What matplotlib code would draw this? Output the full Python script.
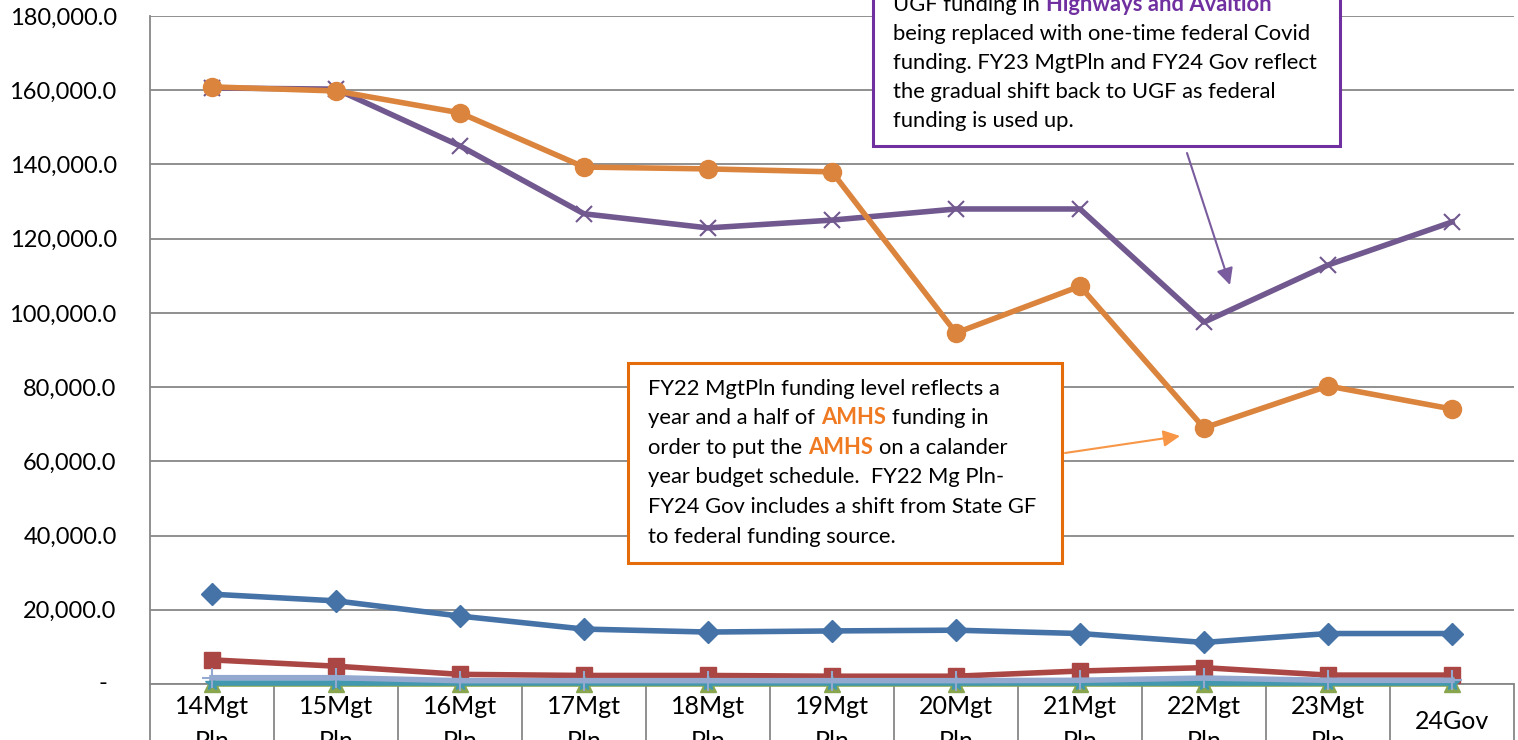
import matplotlib
matplotlib.use("Agg")
import matplotlib.pyplot as plt
import matplotlib.transforms as mtransforms
from matplotlib.patches import Rectangle

plt.rcParams["font.family"] = ["Lato", "DejaVu Sans"]

categories = ["14Mgt\nPln", "15Mgt\nPln", "16Mgt\nPln", "17Mgt\nPln", "18Mgt\nPln",
              "19Mgt\nPln", "20Mgt\nPln", "21Mgt\nPln", "22Mgt\nPln", "23Mgt\nPln",
              "24Gov"]

series1 = [24200, 22400, 18300, 14800, 14000, 14300, 14500, 13600, 11200, 13600, 13600]
series2 = [6500, 4800, 2600, 2300, 2300, 2100, 2100, 3500, 4400, 2400, 2400]
series3 = [0, 0, 0, 0, 0, 0, 0, 0, 0, 0, 0]
series4 = [160600, 160300, 145000, 126700, 122900, 125000, 128000, 128000, 97500, 112900, 124500]
series5 = [250, 250, 250, 250, 250, 250, 250, 250, 250, 250, 250]
series6 = [160900, 159800, 153900, 139300, 138800, 138000, 94600, 107200, 69000, 80300, 74100]
series7 = [1700, 1700, 900, 900, 900, 900, 900, 1000, 1600, 1000, 1000]

yticks = [0, 20000, 40000, 60000, 80000, 100000, 120000, 140000, 160000, 180000]

W, H = 1518, 740
FS = 17
NOTE_FS = 15.8
fig = plt.figure(figsize=(W / 100, H / 100), dpi=100)
ax = fig.add_axes([150 / W, 1 - 684 / H, 1364 / W, 668 / H])

x = list(range(len(categories)))
ax.plot(x, series1, color="#4572A7", lw=4, marker="D", ms=11, zorder=3)
ax.plot(x, series2, color="#AA4643", lw=4, marker="s", ms=12, zorder=3)
ax.plot(x, series3, color="#89A54E", lw=4, marker="^", ms=12, zorder=3, clip_on=False)
ax.plot(x, series4, color="#71588F", lw=4, marker="x", ms=11, mew=1.5, zorder=3)
ax.plot(x, series5, color="#4198AF", lw=4, marker="*", ms=10, zorder=3, clip_on=False)
ax.plot(x, series6, color="#DB843D", lw=4, marker="o", ms=13, zorder=3)
ax.plot(x, series7, color="#93A9CF", lw=4, marker="+", ms=14, mew=1.5, zorder=3, clip_on=False)

ax.set_xlim(-0.5, len(categories) - 0.5)
ax.set_ylim(0, 180000)

grid_c = "#878787"
ax.set_yticks(yticks)
ax.set_yticklabels(["{:,.1f}".format(v) if v else "" for v in yticks])
ax.tick_params(axis="y", length=0, pad=24, labelsize=FS)
ax.yaxis.grid(True, color=grid_c, lw=1.3)
ax.set_axisbelow(True)
ax.text(-0.0345, 0, "-", transform=mtransforms.blended_transform_factory(ax.transAxes, ax.transData),
        ha="center", va="center", fontsize=FS)

ax.set_xticks(x)
ax.set_xticklabels([])
ax.tick_params(axis="x", which="major", length=0)
ax.set_xticks([i - 0.5 for i in range(len(categories) + 1)], minor=True)
ax.tick_params(axis="x", which="minor", length=45, width=1.3, color=grid_c, direction="out")
xt = mtransforms.blended_transform_factory(ax.transData, ax.transAxes)
for i, lab in enumerate(categories):
    ax.text(i, -0.06 if "\n" in lab else -0.056, lab, transform=xt, ha="center", va="center",
            fontsize=18, linespacing=1.65, clip_on=False)

for s in ["top", "right"]:
    ax.spines[s].set_visible(False)
for s in ["left", "bottom"]:
    ax.spines[s].set_color(grid_c)
    ax.spines[s].set_linewidth(1.3)


def px(xp, yp):
    return xp / W, 1 - yp / H


def rich(xp, yp, parts, size=NOTE_FS):
    text, color, weight = parts[0]
    prev = fig.text(*px(xp, yp), text, color=color, weight=weight, fontsize=size,
                    va="center", zorder=6)
    for text, color, weight in parts[1:]:
        prev = fig.add_artist(plt.Annotation(text, xy=(1, 0), xycoords=prev, xytext=(4.2, 0),
                                             textcoords="offset points", va="bottom",
                                             color=color, weight=weight, fontsize=size,
                                             annotation_clip=False, zorder=6))


purple = "#7030A0"
orange = "#E46C0A"
amhs = "#F07A22"
black = "black"

# purple note (top cut off)
fig.patches.append(Rectangle(px(873, 146), (1340 - 873) / W, 200 / H, transform=fig.transFigure,
                             facecolor="white", edgecolor=purple, lw=2.2, zorder=5))
rich(893, 5, [("UGF funding in", black, "normal"), ("Highways and Avaition", purple, "bold")])
rich(893, 34, [("being replaced with one-time federal Covid", black, "normal")])
rich(893, 63, [("funding. FY23 MgtPln and FY24 Gov reflect", black, "normal")])
rich(893, 92, [("the gradual shift back to UGF as federal", black, "normal")])
rich(893, 121, [("funding is used up.", black, "normal")])

# orange note
fig.patches.append(Rectangle(px(628, 563), (1062 - 628) / W, 200 / H, transform=fig.transFigure,
                             facecolor="white", edgecolor=orange, lw=2.2, zorder=5))
rich(648, 389, [("FY22 MgtPln funding level reflects a", black, "normal")])
rich(648, 418, [("year and a half of", black, "normal"), ("AMHS", amhs, "bold"),
                ("funding in", black, "normal")])
rich(648, 448, [("order to put the", black, "normal"), ("AMHS", amhs, "bold"),
                ("on a calander", black, "normal")])
rich(648, 477, [("year budget schedule.  FY22 Mg Pln-", black, "normal")])
rich(648, 507, [("FY24 Gov includes a shift from State GF", black, "normal")])
rich(648, 537, [("to federal funding source.", black, "normal")])

fig.add_artist(plt.Annotation("", xy=(1230, H - 285), xycoords="figure pixels",
                              xytext=(1187, H - 153), textcoords="figure pixels",
                              arrowprops=dict(arrowstyle="-|>", color="#7A5C9E", lw=1.5,
                                              mutation_scale=25, shrinkA=0, shrinkB=0)))
fig.add_artist(plt.Annotation("", xy=(1180, H - 436), xycoords="figure pixels",
                              xytext=(1065, H - 453), textcoords="figure pixels",
                              arrowprops=dict(arrowstyle="-|>", color="#F79646", lw=1.5,
                                              mutation_scale=25, shrinkA=0, shrinkB=0)))

fig.savefig("out.png", dpi=100)
